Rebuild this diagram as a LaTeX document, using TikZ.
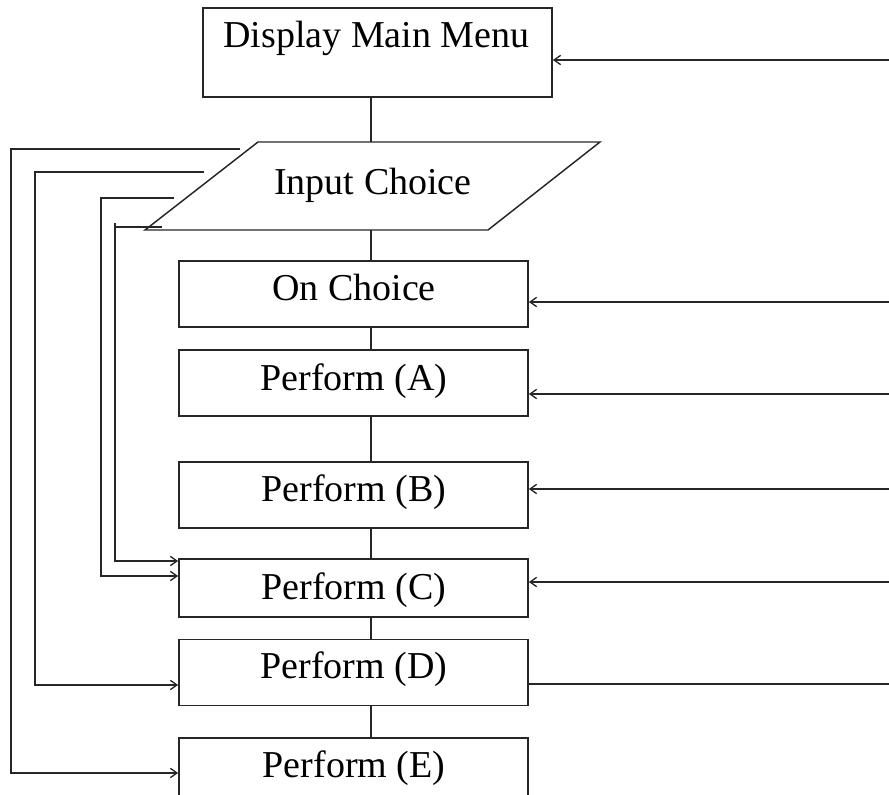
\documentclass[tikz,border=0pt]{standalone}
\usepackage{fontspec}
\setmainfont{Liberation Serif}
\usetikzlibrary{arrows.meta}
\begin{document}
\begin{tikzpicture}[x=0.75pt,y=-0.75pt,
  box/.style={draw=black!85,line width=1.3pt,rectangle,inner sep=0pt,minimum width=261.75pt,minimum height=49.5pt},
  txt/.style={font=\fontsize{28.5pt}{30pt}\selectfont,inner sep=0pt,anchor=base},
  conn/.style={draw=black!85,line width=1.1pt},
  arr/.style={conn,-{Straight Barb[length=5pt,width=7pt,line width=1pt]}}]
\useasboundingbox (0,0) rectangle (889,795);
\clip (0,0) rectangle (889,795);
% boxes
\node[box,minimum height=66.75pt] (dmm) at (377.5,52.5) {};
\node[txt] at (376.5,48) {Display Main Menu};
\coordinate (p1) at (258,142);
\coordinate (p2) at (600,142);
\coordinate (p3) at (488,230);
\coordinate (p4) at (145,230);
\draw[conn] (p1) -- (p2) -- (p3) -- (p4) -- cycle;
\node[txt] (inp) at (373,195) {Input Choice};
\node[box] (on) at (353.5,294) {};
\node[txt] at (354,300) {On Choice};
\node[box] (pa) at (353.5,383) {};
\node[txt] at (354,390) {Perform (A)};
\node[box] (pb) at (353.5,495) {};
\node[txt] at (354,501) {Perform (B)};
\node[box,minimum height=43.5pt] (pc) at (353.5,588) {};
\node[txt] at (354,599) {Perform (C)};
\node[box] (pd) at (353.5,672.5) {};
\node[txt] at (354,678) {Perform (D)};
\node[box] (pe) at (353.5,771) {};
\node[txt] at (354,777) {Perform (E)};
% spine
\draw[conn] (dmm.south -| 371,0) -- (p1 -| 371,0);
\draw[conn] (p4 -| 371,0) -- (on.north -| 371,0);
\draw[conn] (on.south -| 371,0) -- (pa.north -| 371,0);
\draw[conn] (pa.south -| 371,0) -- (pb.north -| 371,0);
\draw[conn] (pb.south -| 371,0) -- (pc.north -| 371,0);
\draw[conn] (pc.south -| 371,0) -- (pd.north -| 371,0);
\draw[conn] (pd.south -| 371,0) -- (pe.north -| 371,0);
% right returns
\coordinate (r0) at (889,60);
\coordinate (r1) at (889,302);
\coordinate (r2) at (889,394);
\coordinate (r3) at (889,489);
\coordinate (r4) at (889,582);
\coordinate (r5) at (889,684);
\draw[arr] (r0) -- (r0 -| dmm.east);
\draw[arr] (r1) -- (r1 -| on.east);
\draw[arr] (r2) -- (r2 -| pa.east);
\draw[arr] (r3) -- (r3 -| pb.east);
\draw[arr] (r4) -- (r4 -| pc.east);
\draw[conn] (pd.east |- r5) -- (r5);
% left branches
\coordinate (l1) at (240,149);
\coordinate (l2) at (204,172);
\coordinate (l3) at (174,198);
\coordinate (l4) at (162,227);
\draw[arr] (l1) -- (11,149) -- (11,773) -- (pe.west |- 0,773);
\draw[arr] (l2) -- (35,172) -- (35,685) -- (pd.west |- 0,685);
\draw[arr] (l3) -- (101,198) -- (101,576) -- (pc.west |- 0,576);
\draw[arr] (l4) -- (115,227) -- (115,561) -- (pc.west |- 0,561);
\draw[conn] (115,227) -- (115,223);
\end{tikzpicture}
\end{document}
